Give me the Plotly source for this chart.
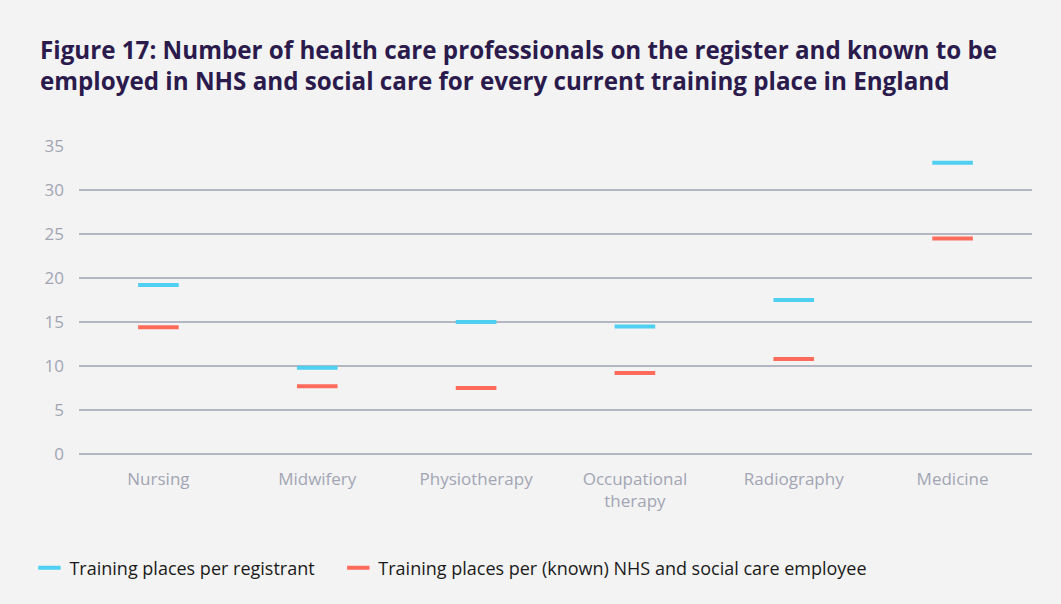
import plotly.graph_objects as go

categories = ["Nursing", "Midwifery", "Physiotherapy", "Occupational<br>therapy", "Radiography", "Medicine"]
per_registrant = [19.2, 9.8, 15.0, 14.5, 17.5, 33.1]
per_employee = [14.4, 7.7, 7.5, 9.2, 10.8, 24.5]
y_ticks = [0, 5, 10, 15, 20, 25, 30, 35]

BLUE = "#4fd0f2"
RED = "#ff6b5a"
BG = "#f3f3f3"
TICK = "#a2a5b3"
GRID = "#b4b6c2"
FONT = "Open Sans, sans-serif"

fig = go.Figure()
fig.add_trace(go.Scatter(
    x=categories, y=per_registrant, mode="markers",
    name="Training places per registrant" + "\u00a0" * 4,
    marker=dict(symbol="line-ew", size=29, color=BLUE, line=dict(color=BLUE, width=4)),
))
fig.add_trace(go.Scatter(
    x=categories, y=per_employee, mode="markers",
    name="Training places per (known) NHS and social care employee",
    marker=dict(symbol="line-ew", size=29, color=RED, line=dict(color=RED, width=4)),
))

fig.update_layout(
    width=1061, height=604,
    paper_bgcolor=BG, plot_bgcolor=BG,
    margin=dict(l=79, r=29, t=146, b=150),
    font=dict(family=FONT, size=16, color=TICK),
    title=dict(
        text="Figure 17: Number of health care professionals on the register and known to be<br>employed in NHS and social care for every current training place in England",
        x=40 / 1061, xref="container", xanchor="left",
        y=1 - 59 / 604, yref="container", yanchor="top",
        font=dict(family=FONT, size=24.2, color="#2b1a4c", weight="bold"),
    ),
    xaxis=dict(
        range=[-0.5, 5.5],
        showgrid=False, zeroline=False, showline=False, ticks="", ticklabelstandoff=13,
        tickfont=dict(size=17, color=TICK),
    ),
    yaxis=dict(
        range=[0, 35], tickvals=y_ticks, showgrid=True, gridcolor=GRID, gridwidth=1.5,
        zeroline=True, zerolinecolor=GRID, zerolinewidth=1.5,
        showline=False, ticks="", ticklabelstandoff=14,
        tickfont=dict(size=17, color=TICK),
    ),
    legend=dict(
        orientation="h", x=-0.052, xanchor="left", y=-0.37, yanchor="middle",
        font=dict(size=18, color="#1a1a1a"), bgcolor="rgba(0,0,0,0)",
        tracegroupgap=0,
    ),
    showlegend=True,
)

fig.write_html("out.html", post_script="document.body.style.margin='0px';",
               config={"displayModeBar": False})
